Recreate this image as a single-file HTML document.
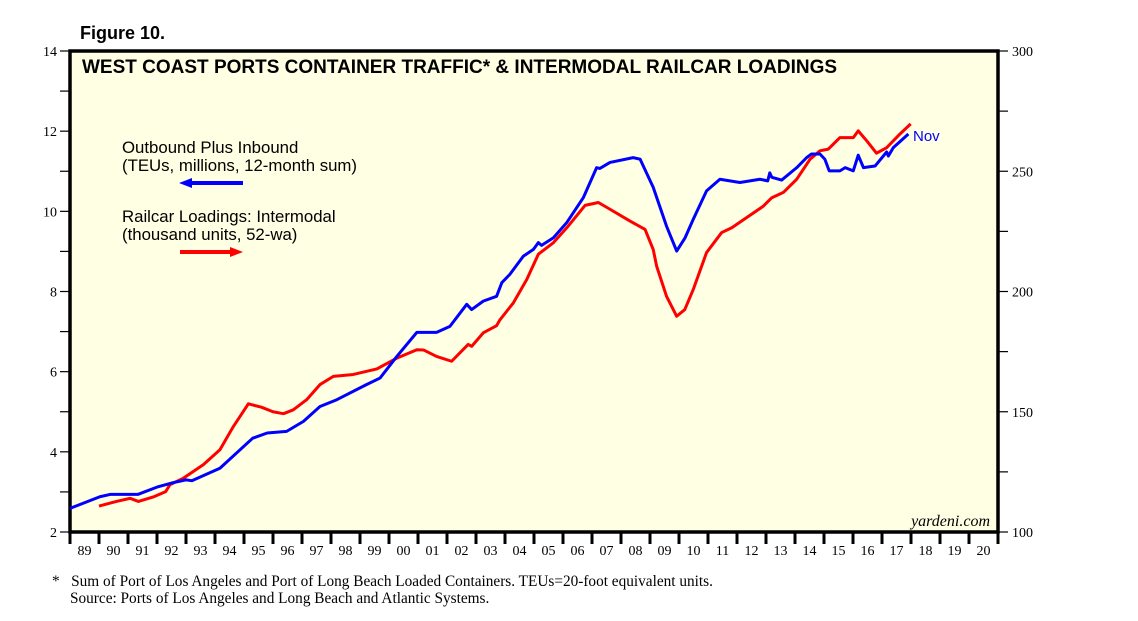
<!DOCTYPE html>
<html><head><meta charset="utf-8"><style>
body{margin:0;background:#fff;}
svg{display:block;font-family:"Liberation Sans",sans-serif;}
</style></head><body>
<svg id="chart" width="1138" height="621" viewBox="0 0 1138 621" xmlns="http://www.w3.org/2000/svg">
<text x="80" y="39" font-size="18" font-weight="bold">Figure 10.</text>
<rect x="70" y="51" width="928" height="481" fill="#ffffe4" stroke="#000" stroke-width="3.5"/>
<text x="82" y="73" font-size="19" font-weight="bold">WEST COAST PORTS CONTAINER TRAFFIC* &amp; INTERMODAL RAILCAR LOADINGS</text>
<g id="axes"></g>
<g id="series"></g>
<text x="122" y="153" font-size="16.8">Outbound Plus Inbound</text>
<text x="122" y="171" font-size="16.8">(TEUs, millions, 12-month sum)</text>
<g><line x1="190" y1="183" x2="243" y2="183" stroke="#0000ff" stroke-width="4"/><polygon points="179,183 192,178 192,188" fill="#0000ff"/></g>
<text x="122" y="222" font-size="16.8">Railcar Loadings: Intermodal</text>
<text x="122" y="240" font-size="16.8">(thousand units, 52-wa)</text>
<g><line x1="180" y1="252" x2="232" y2="252" stroke="#ff0000" stroke-width="4"/><polygon points="243,252 230,247 230,257" fill="#ff0000"/></g>
<text x="913" y="141" font-size="15" fill="#0000ff">Nov</text>
<text x="990" y="526" font-size="16" font-style="italic" text-anchor="end" font-family="Liberation Serif,serif">yardeni.com</text>
<text x="52" y="586" font-size="15.3" font-family="Liberation Serif,serif">*&#160;&#160;&#160;Sum of Port of Los Angeles and Port of Long Beach Loaded Containers. TEUs=20-foot equivalent units.</text>
<text x="70" y="603" font-size="15.3" font-family="Liberation Serif,serif">Source: Ports of Los Angeles and Long Beach and Atlantic Systems.</text>
</svg>
<script>
const leftTicks=[2,4,6,8,10,12,14];
const rightTicks=[100,150,200,250,300];
const yearLabels=["89","90","91","92","93","94","95","96","97","98","99","00","01","02","03","04","05","06","07","08","09","10","11","12","13","14","15","16","17","18","19","20"];
const blueYears=[1989.0,1990.03,1990.4,1991.35,1992.0,1992.55,1993.0,1993.2,1994.17,1995.3,1995.8,1996.47,1997.05,1997.62,1998.2,1999.23,1999.69,2000.27,2000.96,2001.64,2002.1,2002.68,2002.85,2003.25,2003.71,2003.89,2004.17,2004.63,2004.98,2005.15,2005.26,2005.67,2006.13,2006.7,2007.16,2007.27,2007.62,2008.42,2008.66,2009.11,2009.57,2009.92,2010.21,2010.49,2010.95,2011.41,2012.1,2012.79,2013.06,2013.13,2013.2,2013.54,2014.06,2014.4,2014.57,2014.86,2015.03,2015.18,2015.55,2015.73,2016.01,2016.18,2016.36,2016.76,2017.16,2017.22,2017.39,2017.91];
const blueValues=[2.59,2.88,2.94,2.94,3.12,3.23,3.3,3.28,3.59,4.34,4.47,4.51,4.76,5.13,5.3,5.68,5.84,6.38,6.98,6.98,7.13,7.68,7.55,7.76,7.88,8.22,8.43,8.88,9.05,9.22,9.15,9.34,9.72,10.34,11.09,11.07,11.22,11.34,11.3,10.6,9.63,9.01,9.34,9.8,10.51,10.8,10.72,10.8,10.76,10.96,10.85,10.78,11.09,11.34,11.43,11.43,11.3,11.01,11.01,11.09,11.01,11.4,11.09,11.13,11.48,11.38,11.59,11.93];
const redYears=[1990.0,1990.6,1991.07,1991.36,1991.9,1992.3,1992.45,1992.9,1993.6,1994.17,1994.63,1995.15,1995.6,1996.0,1996.36,1996.7,1997.16,1997.62,1998.08,1998.77,1999.58,2000.27,2000.96,2001.19,2001.64,2002.16,2002.73,2002.85,2003.25,2003.71,2003.83,2004.29,2004.75,2005.15,2005.67,2006.18,2006.76,2007.22,2007.62,2008.31,2008.83,2009.11,2009.23,2009.57,2009.92,2010.2,2010.49,2010.95,2011.47,2011.82,2012.33,2012.91,2013.2,2013.6,2014.06,2014.52,2014.86,2015.15,2015.55,2016.01,2016.18,2016.47,2016.81,2017.16,2017.62,2017.99];
const redValues=[110.8,112.7,114.0,112.7,114.7,116.8,119.7,122.3,128.0,134.2,143.8,153.3,151.9,150.0,149.2,150.8,155.0,161.3,164.7,165.5,167.8,172.3,175.8,175.7,173.0,171.0,178.0,177.2,182.8,185.8,188.3,195.3,205.0,215.5,220.3,227.2,235.8,237.0,234.2,229.3,225.8,217.5,210.5,198.0,189.7,192.5,200.8,216.2,224.5,226.5,230.7,235.5,239.0,241.2,246.7,255.0,258.5,259.2,264.0,264.0,266.8,262.7,257.5,259.8,265.5,269.7];

const X0=70,X1=998,Y0=532,Y1=51;
const xs=y=>X0+(y-1989)*(X1-X0)/32;
const yl=v=>Y0-(v-2)*(Y0-Y1)/12;
const yr=v=>Y0-(v-100)*(Y0-Y1)/200;
const NS="http://www.w3.org/2000/svg";
function mk(tag,attrs,parent){const e=document.createElementNS(NS,tag);for(const k in attrs)e.setAttribute(k,attrs[k]);parent.appendChild(e);return e;}
const axes=document.getElementById('axes'),series=document.getElementById('series');
for(let v=2;v<=14;v++){
  const t=mk('line',{x1:60,x2:70,y1:yl(v),y2:yl(v),stroke:'#000','stroke-width':1.2},axes);
  
  
}
leftTicks.forEach(v=>{
  const t=mk('text',{x:57,y:yl(v)+5,'text-anchor':'end','font-size':14,'font-family':'Liberation Serif,serif'},axes);
  t.textContent=v;
  
  
});
for(let v=100;v<=300;v+=25){
  const t=mk('line',{x1:998,x2:1008,y1:yr(v),y2:yr(v),stroke:'#000','stroke-width':1.2},axes);
  
  
}
rightTicks.forEach(v=>{
  const t=mk('text',{x:1012,y:yr(v)+5,'font-size':14,'font-family':'Liberation Serif,serif'},axes);
  t.textContent=v;
  
  
});
yearLabels.forEach((lab,i)=>{
  const tk=mk('line',{x1:xs(1989+i),x2:xs(1989+i),y1:532,y2:544,stroke:'#000','stroke-width':3},axes);
  
  
  const t=mk('text',{x:xs(1989.5+i),y:555,'text-anchor':'middle','font-size':14,'font-family':'Liberation Serif,serif'},axes);
  t.textContent=lab;
  
  
});
const tl=mk('line',{x1:X1,x2:X1,y1:532,y2:544,stroke:'#000','stroke-width':3},axes);


const red=mk('polyline',{points:redYears.map((y,i)=>xs(y)+','+yr(redValues[i])).join(' '),fill:'none',stroke:'#ff0000','stroke-width':3,'stroke-linejoin':'round'},series);


const blue=mk('polyline',{points:blueYears.map((y,i)=>xs(y)+','+yl(blueValues[i])).join(' '),fill:'none',stroke:'#0000ff','stroke-width':3,'stroke-linejoin':'round'},series);


</script>
</body></html>
